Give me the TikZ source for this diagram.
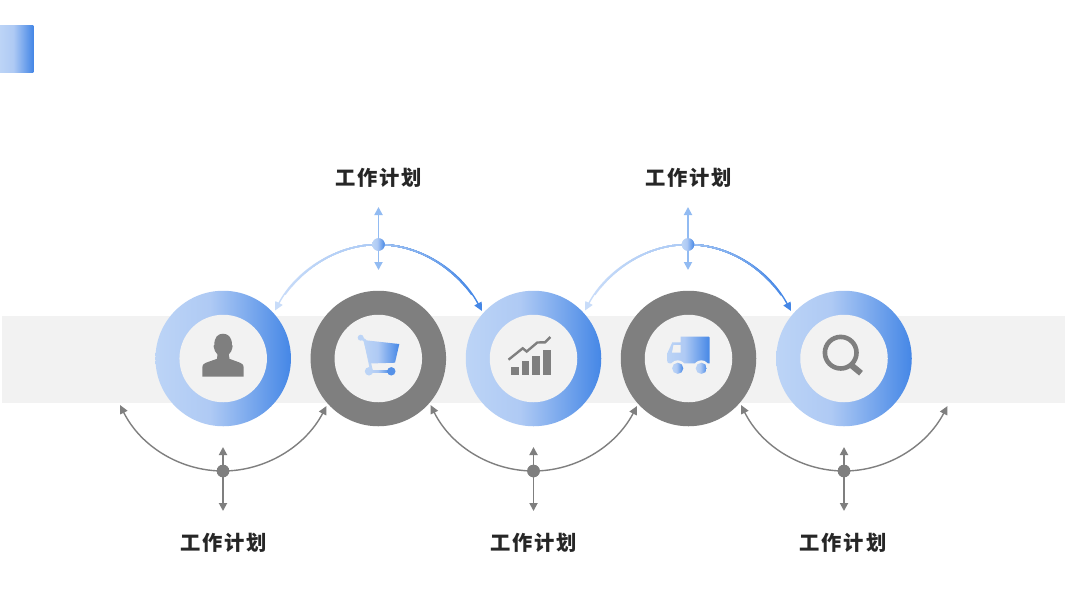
\documentclass[tikz,border=0pt]{standalone}
\usepackage{fontspec}
\usetikzlibrary{arrows.meta}
\newfontfamily\cjkfont[LetterSpace=9]{Noto Sans CJK SC}
\definecolor{gradA}{HTML}{BCD4F6}
\definecolor{gradB}{HTML}{AFCAF4}
\definecolor{gradC}{HTML}{4587E6}
\definecolor{arcMid}{HTML}{A9C9F5}
\definecolor{arcPale}{HTML}{C8DCF9}
\definecolor{shaftBlue}{HTML}{92BBF2}
\definecolor{bandGrey}{HTML}{F2F2F2}
\definecolor{darkGrey}{HTML}{7F7F7F}
\definecolor{labelInk}{HTML}{262626}
\pgfdeclarehorizontalshading{bluegrad}{100bp}{color(0bp)=(gradA); color(25bp)=(gradA); color(45bp)=(gradB); color(75bp)=(gradC); color(100bp)=(gradC)}
\tikzset{
  ringblue/.style={circle,inner sep=0pt,minimum size=135.5pt,shade,shading=bluegrad},
  ringgrey/.style={circle,inner sep=0pt,minimum size=135.5pt,fill=darkGrey},
  hole/.style={circle,inner sep=0pt,minimum size=87.5pt,fill=bandGrey},
  dotgrey/.style={circle,inner sep=0pt,minimum size=12.5pt,fill=darkGrey},
  dotblue/.style={circle,inner sep=0pt,minimum size=12.5pt,shade,shading=bluegrad},
  tiplabel/.style={font=\cjkfont\bfseries\fontsize{20.3}{24}\selectfont,text=labelInk,inner sep=0pt},
  arcgrey/.style={draw=darkGrey,line width=1.4pt,-{Triangle[length=8.5pt,width=8pt]}},
  stemgrey/.style={draw=darkGrey,line width=1.8pt,{Triangle[length=8pt,width=8pt]}-{Triangle[length=8pt,width=8pt]}},
  stemblue/.style={draw=shaftBlue,line width=1.8pt,{Triangle[length=8pt,width=8pt]}-{Triangle[length=8pt,width=8pt]}},
  gradfill/.style={shade,shading=bluegrad,draw=none},
}
% blue arc whose colour runs from its start (#1) to its end (#2)
\newcommand{\gradconn}[5]{%
  \draw[draw=#2,line width=1.4pt,-{Triangle[length=8.5pt,width=8pt]}] (#3) .. controls #4 .. (#5);
  \foreach \k in {11,...,1}{%
    \pgfmathtruncatemacro{\pp}{100-\k*100/12}%
    \pgfmathsetmacro{\LL}{\k*10}%
    \colorlet{segc}{#1!\pp!#2}%
    \draw[draw=segc,line width=1.4pt,dash pattern=on \LL pt off 2000pt] (#3) .. controls #4 .. (#5);
  }%
}
\begin{document}
\begin{tikzpicture}[x=1pt,y=-1pt]
\useasboundingbox (0,0) rectangle (1067,600);
\fill[white] (0,0) rectangle (1067,600);
% corner mark and band
\shade[shading=bluegrad] (0,25.5) rectangle (33.3,72);
\fill[bandGrey] (2,315.5) rectangle (1065,403);
% rings
\node[ringblue] (r1) at (223.2,358.5) {};
\node[ringgrey] (r2) at (378.3,358.5) {};
\node[ringblue] (r3) at (533.5,358.5) {};
\node[ringgrey] (r4) at (688.5,358.5) {};
\node[ringblue] (r5) at (844,358.5) {};
\foreach \n in {r1,r2,r3,r4,r5} \node[hole] (h\n) at (\n.center) {};
% connector ends
\coordinate (a1) at (275,310.5);
\coordinate (a2) at (482,311);
\coordinate (a3) at (585,310.5);
\coordinate (a4) at (791,311);
\coordinate (u1) at (378.5,207);
\coordinate (v1) at (378.5,270);
\coordinate (u2) at (688,207);
\coordinate (v2) at (688,270);
\coordinate (b1) at (120,405);
\coordinate (b2) at (326.5,406);
\coordinate (b3) at (430.5,405);
\coordinate (b4) at (637,406);
\coordinate (b5) at (741,405);
\coordinate (b6) at (947.5,406);
\coordinate (w1) at (223,447);
\coordinate (x1) at (223,511);
\coordinate (w2) at (533.5,447);
\coordinate (x2) at (533.5,511);
\coordinate (w3) at (844,447);
\coordinate (x3) at (844,511);
% dots
\node[dotblue] (t1) at (378.5,244.5) {};
\node[dotblue] (t2) at (688,244.5) {};
\node[dotgrey] (d1) at (223,471) {};
\node[dotgrey] (d2) at (533.5,471) {};
\node[dotgrey] (d3) at (844,471) {};
% top connectors
\gradconn{arcMid}{arcPale}{t1.center}{(336.5,244.5) and (296.5,270)}{a1}
\gradconn{arcMid}{gradC}{t1.center}{(420.5,244.5) and (460,270)}{a2}
\gradconn{arcMid}{arcPale}{t2.center}{(646,244.5) and (606.5,270)}{a3}
\gradconn{arcMid}{gradC}{t2.center}{(730,244.5) and (769,270)}{a4}
\draw[stemblue] (u1) -- (v1);
\draw[stemblue] (u2) -- (v2);
% bottom connectors
\draw[arcgrey] (d1.center) .. controls (181,471) and (141,447) .. (b1);
\draw[arcgrey] (d1.center) .. controls (265,471) and (305,447) .. (b2);
\draw[arcgrey] (d2.center) .. controls (491.5,471) and (451.5,447) .. (b3);
\draw[arcgrey] (d2.center) .. controls (575.5,471) and (615.5,447) .. (b4);
\draw[arcgrey] (d3.center) .. controls (802,471) and (762,447) .. (b5);
\draw[arcgrey] (d3.center) .. controls (886,471) and (926,447) .. (b6);
\draw[stemgrey] (w1) -- (x1);
\draw[stemgrey] (w2) -- (x2);
\draw[stemgrey] (w3) -- (x3);
% dots again on top of their connectors
\node[dotblue] at (t1.center) {};
\node[dotblue] at (t2.center) {};
\node[dotgrey] at (d1.center) {};
\node[dotgrey] at (d2.center) {};
\node[dotgrey] at (d3.center) {};
% labels
\node[tiplabel] (l1) at (378.5,178) {工作计划};
\node[tiplabel] (l2) at (688.5,178) {工作计划};
\node[tiplabel] (l3) at (223.5,543) {工作计划};
\node[tiplabel] (l4) at (533.5,543) {工作计划};
\node[tiplabel] (l5) at (843,543) {工作计划};
% person icon
\fill[darkGrey] (202.3,376.7) -- (243.7,376.7) -- (243.7,368)
  .. controls (243.7,364.5) and (242,363.5) .. (240,362.7)
  -- (229.5,358.8) -- (228.8,354.5)
  .. controls (231,352.5) and (232,350) .. (232.4,347.5)
  .. controls (233,346) and (232.5,345) .. (232,345)
  .. controls (232,337) and (228,333.7) .. (223,333.7)
  .. controls (218,333.7) and (214.3,337) .. (214.3,345)
  .. controls (213.6,345) and (213.3,346) .. (213.9,347.5)
  .. controls (214.3,350) and (215.3,352.5) .. (217.5,354.5)
  -- (217,358.8) -- (206,362.7)
  .. controls (204,363.5) and (202.3,364.5) .. (202.3,368) -- cycle;
% cart icon
\fill[gradA] (360.7,337.7) circle[radius=3];
\draw[gradA,line width=2.6pt] (360.7,337.7) -- (365,340.5) -- (371.5,371);
\fill[gradA] (369,371.3) circle[radius=4.2];
\shade[gradfill] (369,370) rectangle (391,372.6);
\fill[gradC!85!gradB] (391.3,371.3) circle[radius=4.2];
\shade[gradfill] (363.3,340) -- (399.3,344) -- (395,362.7) -- (369.7,363.5) -- cycle;
% chart icon
\fill[darkGrey] (511,366.7) rectangle (519,374.7);
\fill[darkGrey] (521.5,361) rectangle (529.3,374.7);
\fill[darkGrey] (532,355.7) rectangle (540,374.7);
\fill[darkGrey] (542.7,350.3) rectangle (550.7,374.7);
\draw[darkGrey,line width=2.4pt] (508.5,359.7) -- (522.7,348.3) -- (526.7,351.5) -- (537.3,342.5) -- (545,342.3) -- (550.3,337);
% truck icon
\shade[gradfill] (680.7,336.7) -- (708.7,336.7) .. controls (709.4,336.7) and (709.7,337) .. (709.7,337.7)
  -- (709.7,363.3) -- (669.5,363.3) .. controls (668,363.3) and (667.3,362.5) .. (667.3,361)
  -- (667.3,353.3) -- (672.3,342.3) -- (680.7,342.3) -- cycle;
\fill[bandGrey] (673.5,345) -- (680.7,345) -- (680.7,352.7) -- (672,352.7) -- cycle;
\fill[bandGrey] (677.7,368.3) circle[radius=8];
\fill[bandGrey] (701.3,368.3) circle[radius=8];
\shade[gradfill] (677.7,368.3) circle[radius=5.6];
\shade[gradfill] (701.3,368.3) circle[radius=5.6];
% magnifier icon
\draw[darkGrey,line width=4.6pt] (840.7,352.7) circle[radius=15.8];
\draw[darkGrey,line width=3pt] (849.5,364) -- (853,367);
\draw[darkGrey,line width=6pt] (851.7,365.5) -- (861,373.2);
\end{tikzpicture}
\end{document}
